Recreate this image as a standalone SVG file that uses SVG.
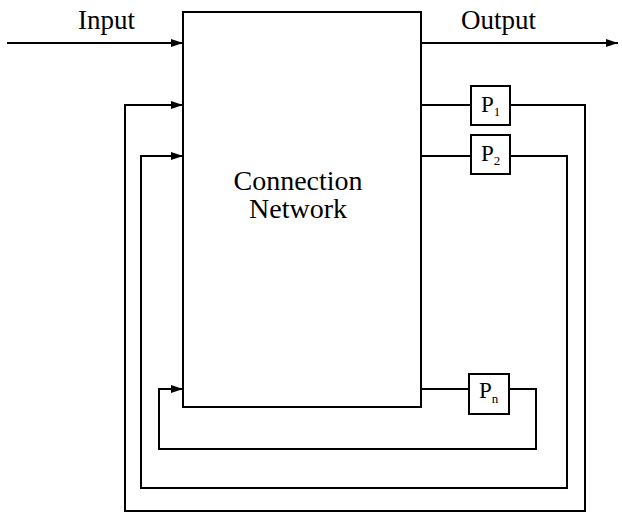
<svg xmlns="http://www.w3.org/2000/svg" width="622" height="513" viewBox="0 0 622 513">
<defs>
<marker id="ah" viewBox="0 0 12 8" refX="12" refY="4" markerWidth="12" markerHeight="8" markerUnits="userSpaceOnUse" orient="auto">
<path d="M0,0 L12,4 L0,8 Z" fill="#000"/>
</marker>
</defs>
<style>
.box{fill:#fff;stroke:#000;stroke-width:2}
.ln{fill:none;stroke:#000;stroke-width:2}
text{font-family:'Liberation Serif','Times New Roman','DejaVu Serif',serif;fill:#000}
</style>
<rect width="622" height="513" fill="#fff"/>
<g id="connectors">
<line class="ln" x1="7" y1="43" x2="183" y2="43" marker-end="url(#ah)"/>
<line class="ln" x1="421" y1="43" x2="618" y2="43" marker-end="url(#ah)"/>
<polyline class="ln" points="421,105 471,105"/>
<polyline class="ln" points="510,105 585,105 585,511 125,511 125,105 183,105" marker-end="url(#ah)"/>
<polyline class="ln" points="421,156 471,156"/>
<polyline class="ln" points="510,156 567,156 567,488 141,488 141,156 183,156" marker-end="url(#ah)"/>
<polyline class="ln" points="421,389 469,389"/>
<polyline class="ln" points="509,389 536,389 536,449 159,449 159,389 183,389" marker-end="url(#ah)"/>
</g>
<g id="network">
<rect class="box" x="183" y="12" width="238" height="395"/>
<text x="298" y="190" font-family="Liberation Serif, serif" font-size="28" text-anchor="middle">Connection</text>
<text x="298" y="218" font-family="Liberation Serif, serif" font-size="28" text-anchor="middle">Network</text>
</g>
<g id="input-label"><text x="78" y="29" font-family="Liberation Serif, serif" font-size="27">Input</text></g>
<g id="output-label"><text x="461" y="29" font-family="Liberation Serif, serif" font-size="27">Output</text></g>
<g id="p1">
<rect class="box" x="471" y="86" width="39" height="39"/>
<text x="481" y="112" font-family="Liberation Serif, serif" font-size="23">P<tspan font-size="13" dy="4">1</tspan></text>
</g>
<g id="p2">
<rect class="box" x="471" y="135" width="39" height="39"/>
<text x="481" y="161" font-family="Liberation Serif, serif" font-size="23">P<tspan font-size="13" dy="4">2</tspan></text>
</g>
<g id="pn">
<rect class="box" x="469" y="374" width="40" height="40"/>
<text x="479" y="398" font-family="Liberation Serif, serif" font-size="23">P<tspan font-size="13" dy="5">n</tspan></text>
</g>
</svg>
